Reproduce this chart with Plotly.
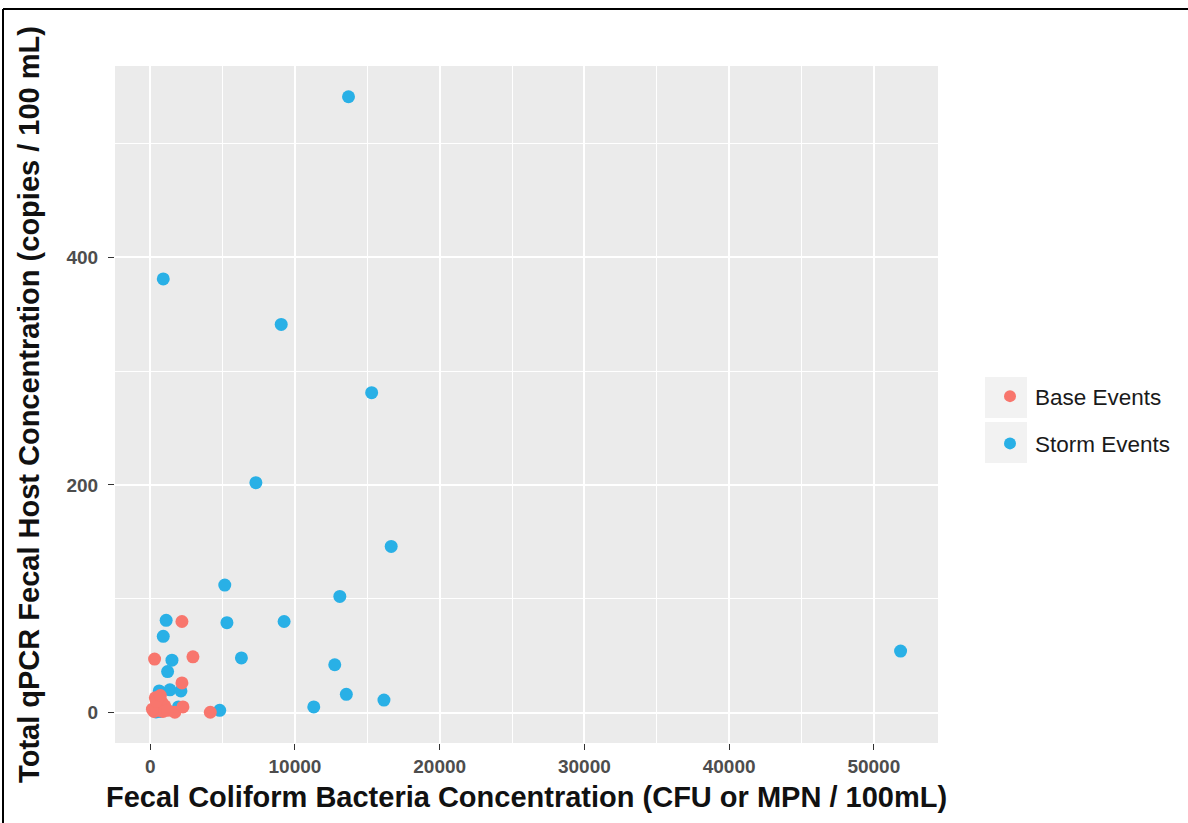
import plotly.graph_objects as go

# Base (dry weather) sampling events
base_fc = [300, 2950, 2190, 2190, 350, 800, 480, 250, 880, 1700, 2260, 4150, 600, 150, 1000, 420, 700, 1200]
base_qpcr = [47, 49, 80, 26, 13, 9, 5, 1, 1, 0.3, 5, 0.3, 2, 3, 6, 10, 15, 2]

# Storm sampling events
storm_fc = [13700, 900, 9050, 15300, 7300, 16650, 5150, 13100, 5300, 9250, 1100, 900, 51850, 6300,
            12750, 1500, 13550, 16150, 11300, 4800, 1200, 1360, 2120, 620, 1950, 400, 700]
storm_qpcr = [541, 381, 341, 281, 202, 146, 112, 102, 79, 80, 81, 67, 54, 48,
              42, 46, 16, 11, 5, 2, 36, 20, 19, 19, 5, 0.5, 1]

x_ticks = [0, 10000, 20000, 30000, 40000, 50000]
y_ticks = [0, 200, 400]

RED = "#F8766D"
BLUE = "#29B0E6"
FONT = "Liberation Sans, Arial"

W, H = 1188, 823
ML, MR, MT, MB = 115, 250, 66, 80
PW, PH = W - ML - MR, H - MT - MB


def expand(lo, hi, f=0.05):
    d = (hi - lo) * f
    return [lo - d, hi + d]


all_x = base_fc + storm_fc
all_y = base_qpcr + storm_qpcr
xr = expand(min(all_x), max(all_x))
yr = expand(min(all_y), max(all_y))


def px_x(p):
    return (p - ML) / PW


def px_y(p):
    return (H - MB - p) / PH


fig = go.Figure()
fig.add_trace(go.Scatter(
    x=storm_fc, y=storm_qpcr, mode="markers", name="Storm Events",
    legendgroup="storm", legendrank=2,
    marker=dict(color=BLUE, size=13, line=dict(width=0)),
))
fig.add_trace(go.Scatter(
    x=base_fc, y=base_qpcr, mode="markers", name="Base Events",
    legendgroup="base", legendrank=1,
    marker=dict(color=RED, size=13, line=dict(width=0)),
))

axis_common = dict(
    showgrid=True, gridcolor="white", gridwidth=2.2,
    zeroline=False, showline=False,
    ticks="outside", ticklen=6, tickwidth=1.2, tickcolor="#333333",
    tickfont=dict(family=FONT, size=19, color="#4D4D4D", weight="bold"),
    minor=dict(showgrid=True, gridcolor="white", gridwidth=1, ticks=""),
)

fig.update_xaxes(
    **axis_common, range=xr, tickvals=x_ticks, ticktext=[str(v) for v in x_ticks],
    minor_tickvals=[5000, 15000, 25000, 35000, 45000],
    title=dict(text="Fecal Coliform Bacteria Concentration (CFU or MPN / 100mL)",
               font=dict(family=FONT, size=29, color="#111111", weight="bold"),
               standoff=10),
)
fig.update_yaxes(
    **axis_common, range=yr, tickvals=y_ticks, ticktext=[str(v) for v in y_ticks],
    minor_tickvals=[100, 300, 500], ticklabelstandoff=6,
    title=dict(text="Total qPCR Fecal Host Concentration (copies / 100 mL)",
               font=dict(family=FONT, size=29, color="#111111", weight="bold"),
               standoff=18),
)

shapes = [
    # grey key boxes behind legend symbols
    dict(type="rect", xref="paper", yref="paper", layer="below",
         x0=px_x(985), x1=px_x(1027), y0=px_y(418), y1=px_y(377),
         fillcolor="#F2F2F2", line=dict(width=0)),
    dict(type="rect", xref="paper", yref="paper", layer="below",
         x0=px_x(985), x1=px_x(1027), y0=px_y(463), y1=px_y(422),
         fillcolor="#F2F2F2", line=dict(width=0)),
    # outer frame lines
    dict(type="line", xref="paper", yref="paper", x0=px_x(3), x1=px_x(3),
         y0=px_y(9), y1=px_y(830), line=dict(color="black", width=2)),
    dict(type="line", xref="paper", yref="paper", x0=px_x(3), x1=px_x(1195),
         y0=px_y(9), y1=px_y(9), line=dict(color="black", width=2)),
]

fig.update_layout(
    width=W, height=H,
    margin=dict(l=ML, r=MR, t=MT, b=MB, autoexpand=False),
    paper_bgcolor="white", plot_bgcolor="#EBEBEB",
    font=dict(family=FONT, color="#111111"),
    showlegend=True,
    legend=dict(
        x=px_x(985), y=px_y(375), xanchor="left", yanchor="top",
        font=dict(family=FONT, size=22.5, color="#1A1A1A"),
        bgcolor="rgba(0,0,0,0)", traceorder="grouped", tracegroupgap=15,
        itemsizing="constant", itemwidth=40,
    ),
    shapes=shapes,
)

fig.write_html("out.html")
